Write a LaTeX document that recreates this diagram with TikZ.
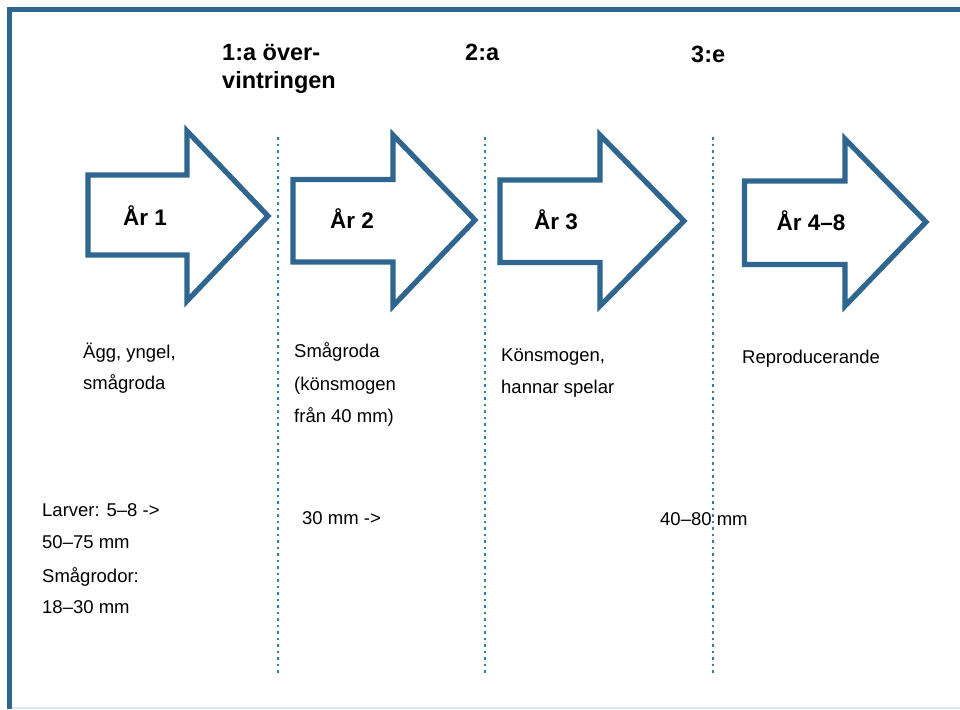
\documentclass[tikz,border=0pt]{standalone}
\usepackage{fontspec}
\setmainfont{Liberation Sans}
\definecolor{arrowblue}{HTML}{2E6690}
\definecolor{dotblue}{HTML}{2F7CB9}
\definecolor{edgegray}{HTML}{DAE8EF}
\tikzset{
  yeararrow/.style={draw=arrowblue, line width=5.2pt, line join=miter, fill=white},
  divider/.style={draw=dotblue, line width=2.9pt, dash pattern=on 2.9pt off 3.6pt},
  frameline/.style={draw=arrowblue, line width=5.5pt},
  heading/.style={anchor=base west, inner sep=0pt, font=\fontsize{23.5}{23.5}\selectfont\bfseries},
  yearlabel/.style={anchor=base, inner sep=0pt, font=\fontsize{22.5}{22.5}\selectfont\bfseries},
  body/.style={anchor=base west, inner sep=0pt, font=\fontsize{18.5}{18.5}\selectfont},
}
\begin{document}
\begin{tikzpicture}[x=1pt,y=-1pt]
\useasboundingbox (0,0) rectangle (960,709);
\fill[white] (0,0) rectangle (960,709);
% frame
\draw[edgegray, line width=1.8pt] (10,708) -- (960,708);
\draw[frameline] (9.5,709) -- (9.5,9.5) -- (960,9.5);
% dividers
\coordinate (d1t) at (278,137); \coordinate (d1b) at (278,673);
\coordinate (d2t) at (485,137); \coordinate (d2b) at (485,673);
\coordinate (d3t) at (713,137); \coordinate (d3b) at (713,673);
\draw[divider] (d1t) -- (d1b);
\draw[divider] (d2t) -- (d2b);
\draw[divider] (d3t) -- (d3b);
% arrows
\draw[yeararrow] (88,175) -- (187,175) -- (187,131) -- (268,216) -- (187,301) -- (187,255) -- (88,255) -- cycle;
\draw[yeararrow] (293,179.5) -- (393,179.5) -- (393,135) -- (475,220) -- (393,306) -- (393,262) -- (293,262) -- cycle;
\draw[yeararrow] (500,180) -- (600,180) -- (600,135) -- (684,221) -- (600,306) -- (600,262.5) -- (500,262.5) -- cycle;
\draw[yeararrow] (744.5,181) -- (845,181) -- (845,139) -- (926,222) -- (845,306) -- (845,264.5) -- (744.5,264.5) -- cycle;
% year labels
\node[yearlabel] (y1) at (145,225) {År 1};
\node[yearlabel] (y2) at (352,228) {År 2};
\node[yearlabel] (y3) at (556,229) {År 3};
\node[yearlabel] (y4) at (811,230) {År 4–8};
% headings
\node[heading] (h1a) at (222,60) {1:a över-};
\node[heading] (h1b) at (222,88) {vintringen};
\node[heading] (h2) at (465,60) {2:a};
\node[heading] (h3) at (691,63) {3:e};
% descriptions
\node[body] (s1a) at (83,358) {Ägg, yngel,};
\node[body] (s1b) at (83,389) {smågroda};
\node[body] (s2a) at (294,357) {Smågroda};
\node[body] (s2b) at (294,390) {(könsmogen};
\node[body] (s2c) at (294,422) {från 40 mm)};
\node[body] (s3a) at (501,361) {Könsmogen,};
\node[body] (s3b) at (501,393) {hannar spelar};
\node[body] (s4a) at (742,363) {Reproducerande};
% sizes
\node[body] (m1a) at (42,516) {Larver: 5–8 ->};
\node[body] (m1b) at (42,548) {50–75 mm};
\node[body] (m1c) at (42,582) {Smågrodor:};
\node[body] (m1d) at (42,613) {18–30 mm};
\node[body] (m2) at (302,524) {30 mm ->};
\node[body] (m3) at (660,525) {40–80 mm};
\end{tikzpicture}
\end{document}
